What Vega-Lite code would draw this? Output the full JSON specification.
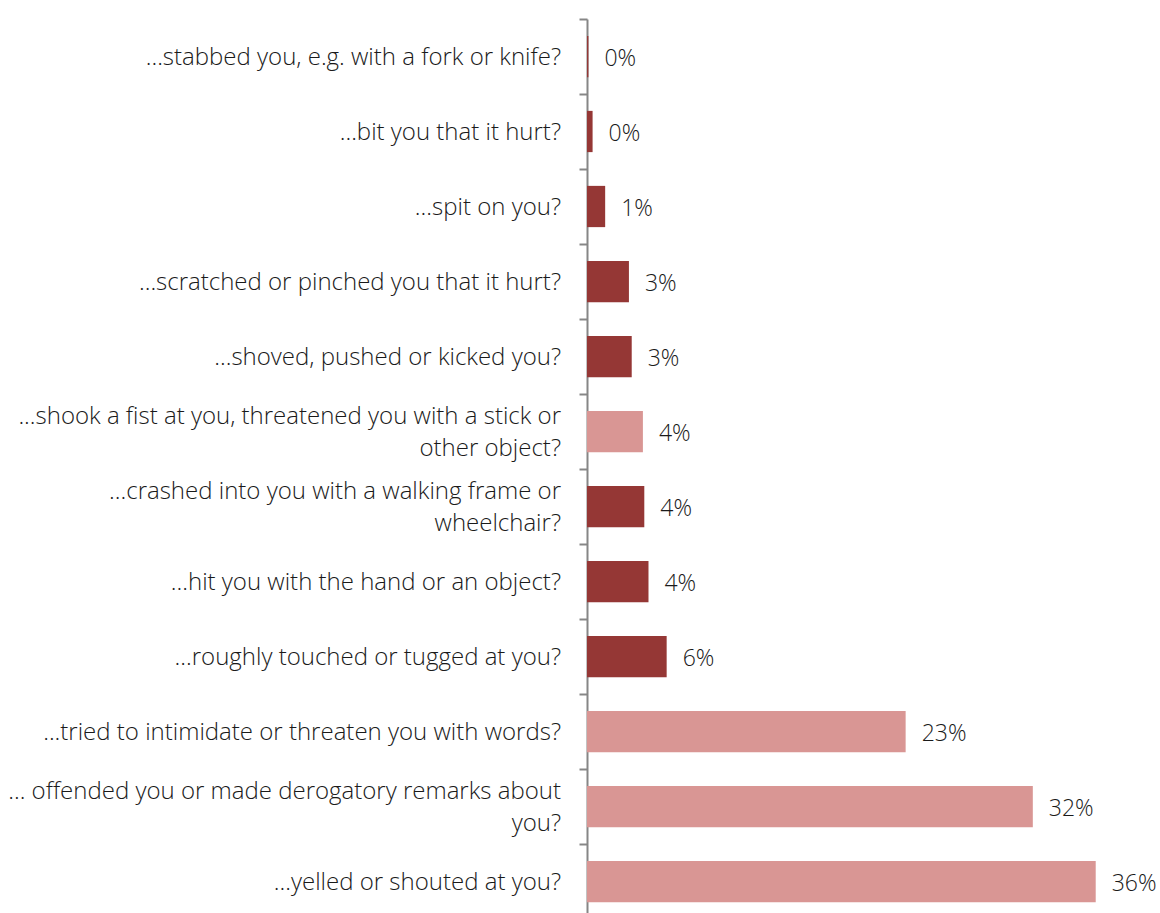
{
  "$schema": "https://vega.github.io/schema/vega-lite/v6.json",
  "autosize": {"type": "none"},
  "width": 573,
  "height": 900,
  "padding": {"left": 587, "top": 19, "right": 0, "bottom": 0},
  "background": "white",
  "config": {
    "view": {"stroke": null},
    "font": "Open Sans",
    "text": {"font": "Open Sans", "fontWeight": 300, "color": "#1a1a1a"}
  },
  "data": {
    "values": [
      {"item": "stabbed", "line1": "...stabbed you, e.g. with a fork or knife?", "line2": "", "share": 0.001, "kind": "physical"},
      {"item": "bit", "line1": "...bit you that it hurt?", "line2": "", "share": 0.004, "kind": "physical"},
      {"item": "spit", "line1": "...spit on you?", "line2": "", "share": 0.013, "kind": "physical"},
      {"item": "scratched", "line1": "...scratched or pinched you that it hurt?", "line2": "", "share": 0.030, "kind": "physical"},
      {"item": "shoved", "line1": "...shoved, pushed or kicked you?", "line2": "", "share": 0.032, "kind": "physical"},
      {"item": "shook", "line1": "...shook a fist at you, threatened you with a stick or", "line2": "other object?", "share": 0.040, "kind": "threat"},
      {"item": "crashed", "line1": "...crashed into you with a walking frame or", "line2": "wheelchair?", "share": 0.041, "kind": "physical"},
      {"item": "hit", "line1": "...hit you with the hand or an object?", "line2": "", "share": 0.044, "kind": "physical"},
      {"item": "roughly", "line1": "...roughly touched or tugged at you?", "line2": "", "share": 0.057, "kind": "physical"},
      {"item": "intimidate", "line1": "...tried to intimidate or threaten you with words?", "line2": "", "share": 0.228, "kind": "threat"},
      {"item": "offended", "line1": "... offended you or made derogatory remarks about", "line2": "you?", "share": 0.319, "kind": "threat"},
      {"item": "yelled", "line1": "...yelled or shouted at you?", "line2": "", "share": 0.364, "kind": "threat"}
    ]
  },
  "encoding": {
    "y": {
      "field": "item",
      "type": "nominal",
      "sort": null,
      "scale": {"paddingInner": 0.45, "paddingOuter": 0.225},
      "axis": {
        "title": null,
        "labels": false,
        "domainColor": "#868686",
        "domainWidth": 2,
        "tickColor": "#868686",
        "tickWidth": 2,
        "tickSize": 8,
        "tickOffset": -37.5
      }
    }
  },
  "layer": [
    {
      "mark": {"type": "bar", "cornerRadius": 0},
      "encoding": {
        "x": {
          "field": "share",
          "type": "quantitative",
          "scale": {"domain": [0, 0.41], "nice": false, "zero": true},
          "axis": null
        },
        "color": {
          "field": "kind",
          "type": "nominal",
          "scale": {"domain": ["physical", "threat"], "range": ["#953735", "#D99694"]},
          "legend": null
        }
      }
    },
    {
      "mark": {"type": "text", "align": "left", "baseline": "middle", "dx": 16, "dy": 2, "fontSize": 23},
      "encoding": {
        "x": {"field": "share", "type": "quantitative"},
        "text": {"field": "share", "type": "quantitative", "format": ".0%"}
      }
    },
    {
      "transform": [{"filter": "datum.line2 === ''"}],
      "mark": {"type": "text", "align": "right", "baseline": "middle", "dx": -26, "dy": 1, "fontSize": 24},
      "encoding": {
        "x": {"datum": 0, "type": "quantitative"},
        "text": {"field": "line1"}
      }
    },
    {
      "transform": [{"filter": "datum.line2 !== ''"}],
      "mark": {"type": "text", "align": "right", "baseline": "middle", "dx": -26, "dy": -15, "fontSize": 24},
      "encoding": {
        "x": {"datum": 0, "type": "quantitative"},
        "text": {"field": "line1"}
      }
    },
    {
      "transform": [{"filter": "datum.line2 !== ''"}],
      "mark": {"type": "text", "align": "right", "baseline": "middle", "dx": -26, "dy": 17, "fontSize": 24},
      "encoding": {
        "x": {"datum": 0, "type": "quantitative"},
        "text": {"field": "line2"}
      }
    }
  ]
}
